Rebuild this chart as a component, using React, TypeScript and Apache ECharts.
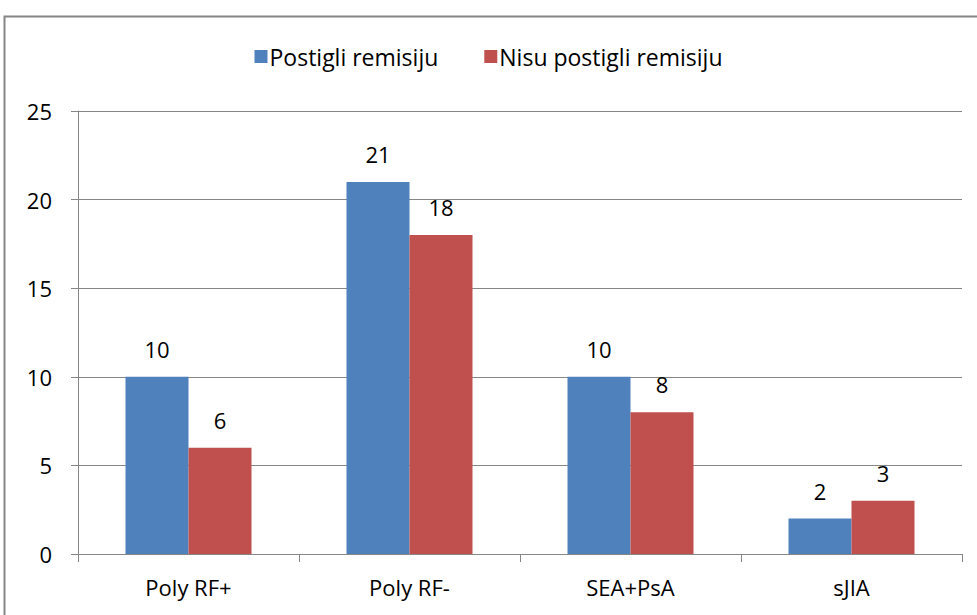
import React, { useEffect, useRef } from "react";
import * as echarts from "echarts";

const categories = ["Poly RF+", "Poly RF-", "SEA+PsA", "sJIA"];
const remission = [10, 21, 10, 2];
const noRemission = [6, 18, 8, 3];
const seriesNames = ["Postigli remisiju", "Nisu postigli remisiju"];

const FONT = "Open Sans, Liberation Sans, sans-serif";

export default function App() {
  const ref = useRef<HTMLDivElement>(null);
  useEffect(() => {
    const chart = echarts.init(ref.current!, null, { renderer: "svg" });
    const label = {
      show: true,
      position: "top",
      distance: 17,
      fontSize: 22,
      fontFamily: FONT,
      color: "#000",
    };
    chart.setOption({
      animation: false,
      backgroundColor: "#fff",
      graphic: [
        {
          type: "rect",
          shape: { x: 4.5, y: 16.5, width: 1000, height: 700 },
          style: { fill: "none", stroke: "#868686", lineWidth: 2 },
          silent: true,
        },
      ],
      legend: {
        top: 40,
        left: "center",
        itemWidth: 13,
        itemHeight: 13,
        itemGap: 46,
        icon: "rect",
        textStyle: { fontSize: 23, fontFamily: FONT, color: "#000", padding: [0, 0, 0, -3] },
        data: seriesNames,
      },
      grid: { left: 78, right: 15, top: 111, bottom: 61, containLabel: false },
      xAxis: {
        type: "category",
        data: categories,
        axisLine: { lineStyle: { color: "#868686", width: 1 } },
        axisTick: { show: true, length: 8, lineStyle: { color: "#868686" }, alignWithLabel: false },
        axisLabel: { fontSize: 22, fontFamily: FONT, color: "#000", margin: 22 },
      },
      yAxis: {
        type: "value",
        min: 0,
        max: 25,
        interval: 5,
        axisLine: { show: true, lineStyle: { color: "#868686" } },
        axisTick: { show: true, length: 7, lineStyle: { color: "#868686" } },
        axisLabel: { fontSize: 22, fontFamily: FONT, color: "#000", margin: 26 },
        splitLine: { lineStyle: { color: "#868686", width: 1 } },
      },
      series: [
        {
          name: seriesNames[0],
          type: "bar",
          data: remission,
          barWidth: 63,
          barGap: "0%",
          itemStyle: { color: "#4F81BD" },
          label,
        },
        {
          name: seriesNames[1],
          type: "bar",
          data: noRemission,
          barWidth: 63,
          barGap: "0%",
          itemStyle: { color: "#C0504D" },
          label,
        },
      ],
    });
    return () => chart.dispose();
  }, []);
  return (
    <div
      ref={ref}
      style={{ position: "fixed", left: 0, top: 0, width: 977, height: 615 }}
    />
  );
}
